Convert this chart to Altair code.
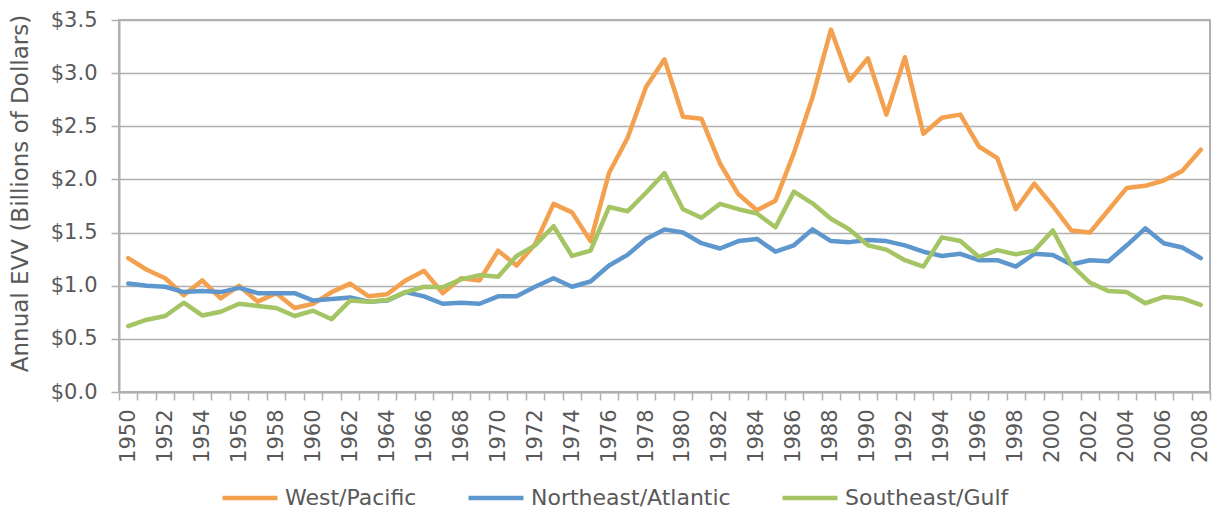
import altair as alt
import pandas as pd

years = list(range(1950, 2009))
series_names = ["West/Pacific", "Northeast/Atlantic", "Southeast/Gulf"]
series_colors = ["#F4A14F", "#5E97CD", "#A5C464"]

west = [1.26, 1.15, 1.07, 0.91, 1.05, 0.88, 1.00, 0.85, 0.93, 0.79,
        0.83, 0.94, 1.02, 0.90, 0.92, 1.05, 1.14, 0.93, 1.07, 1.05,
        1.33, 1.19, 1.39, 1.77, 1.69, 1.42, 2.06, 2.39, 2.87, 3.13,
        2.59, 2.57, 2.15, 1.86, 1.71, 1.80, 2.25, 2.77, 3.41, 2.93,
        3.14, 2.61, 3.15, 2.43, 2.58, 2.61, 2.31, 2.20, 1.72, 1.96,
        1.75, 1.52, 1.50, 1.71, 1.92, 1.94, 1.99, 2.08, 2.28]
northeast = [1.02, 1.00, 0.99, 0.94, 0.95, 0.94, 0.98, 0.93, 0.93, 0.93,
             0.86, 0.875, 0.89, 0.85, 0.86, 0.94, 0.90, 0.83, 0.84, 0.83,
             0.90, 0.90, 0.99, 1.07, 0.99, 1.04, 1.19, 1.29, 1.44, 1.53,
             1.50, 1.40, 1.35, 1.42, 1.44, 1.32, 1.38, 1.53, 1.42, 1.41,
             1.43, 1.42, 1.38, 1.32, 1.28, 1.30, 1.24, 1.24, 1.18, 1.30,
             1.29, 1.20, 1.24, 1.23, 1.38, 1.54, 1.40, 1.36, 1.26]
southeast = [0.62, 0.68, 0.715, 0.84, 0.72, 0.755, 0.83, 0.81, 0.79, 0.715,
             0.765, 0.685, 0.86, 0.85, 0.865, 0.94, 0.99, 0.985, 1.06, 1.10,
             1.085, 1.28, 1.38, 1.56, 1.28, 1.33, 1.74, 1.70, 1.875, 2.06,
             1.72, 1.64, 1.77, 1.72, 1.68, 1.55, 1.885, 1.775, 1.63, 1.53,
             1.38, 1.34, 1.24, 1.18, 1.455, 1.42, 1.27, 1.335, 1.295, 1.33,
             1.52, 1.195, 1.03, 0.95, 0.94, 0.835, 0.895, 0.88, 0.82]
y_ticks = [0, 0.5, 1.0, 1.5, 2.0, 2.5, 3.0, 3.5]

rows = []
for name, vals in zip(series_names, [west, northeast, southeast]):
    for yr, v in zip(years, vals):
        rows.append({"Year": yr, "Value": v, "Region": name})
df = pd.DataFrame(rows)

FONT = "DejaVu Sans"
TXT = "#595959"
GRID = "#B0B0B0"

chart = alt.Chart(df).mark_line(strokeWidth=4.5, strokeCap="round", strokeJoin="round").encode(
    x=alt.X("Year:O",
            scale=alt.Scale(type="band", paddingInner=0, paddingOuter=0),
            bandPosition=0.5,
            axis=alt.Axis(title=None, labelAngle=-90, tickBand="extent",
                          labelExpr="datum.value % 2 == 0 ? datum.value : ''",
                          domainColor=GRID, domainWidth=2, tickColor=GRID, tickWidth=1.5,
                          tickSize=8, labelPadding=9, labelFontSize=21, grid=False)),
    y=alt.Y("Value:Q",
            scale=alt.Scale(domain=[0, 3.5], nice=False),
            axis=alt.Axis(title="Annual EVV (Billions of Dollars)", values=y_ticks,
                          format="$.1f", domainColor=GRID, domainWidth=2,
                          tickColor=GRID, tickWidth=1.5, tickSize=8,
                          gridColor=GRID, gridWidth=1.5, labelPadding=14,
                          labelFontSize=21, titleFontSize=23, titlePadding=18,
                          titleY=173,
                          titleFontWeight="normal", titleColor=TXT)),
    color=alt.Color("Region:N",
                    scale=alt.Scale(domain=series_names, range=series_colors),
                    legend=alt.Legend(title=None, orient="none", direction="horizontal",
                                      legendX=101, legendY=448,
                                      symbolType="stroke", symbolSize=3025,
                                      symbolStrokeWidth=4.5, labelFontSize=22,
                                      labelOffset=5, columnPadding=42, labelLimit=400,
                                      labelColor=TXT, labelFont=FONT)),
).properties(
    width=1091, height=372,
    autosize=alt.AutoSizeParams(type="none"),
    padding={"left": 111, "top": 12, "right": 2, "bottom": 120},
).configure_view(
    stroke=GRID, strokeWidth=2
).configure_axis(
    labelFont=FONT, titleFont=FONT, labelColor=TXT
)

chart.save("out.html", embed_options={"renderer": "svg", "actions": False})
